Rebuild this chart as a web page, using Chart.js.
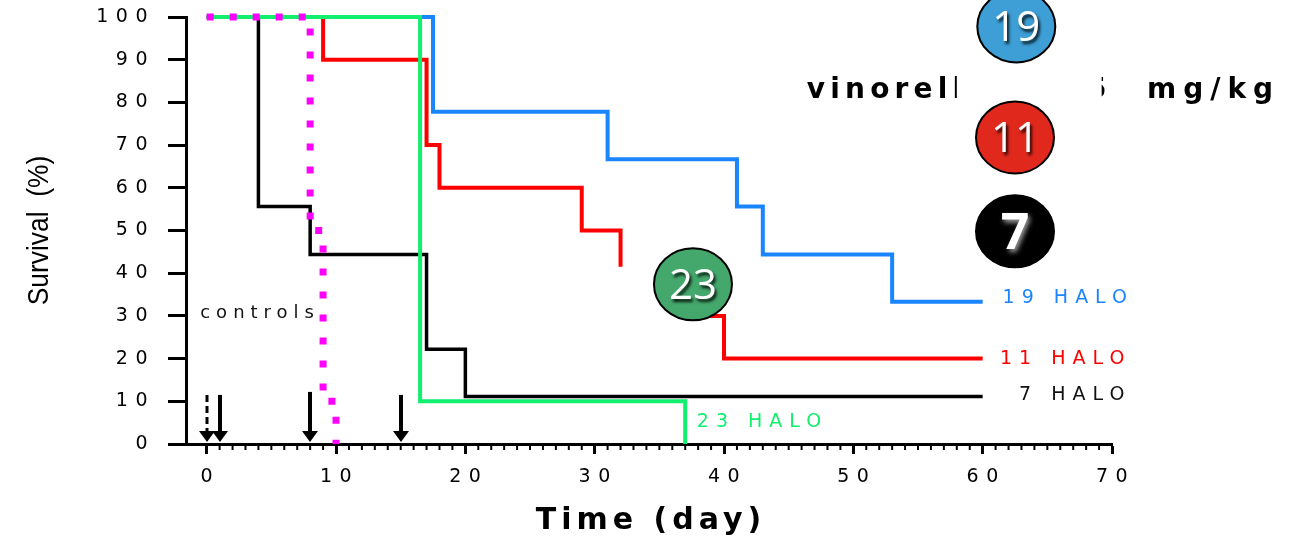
<!DOCTYPE html>
<html>
<head>
<meta charset="utf-8">
<script src="https://cdn.jsdelivr.net/npm/chart.js@4"></script>
<style>
  html, body { margin: 0; padding: 0; background: #fff; }
</style>
</head>
<body>
<canvas id="myChart" width="1289" height="537"></canvas>
<script>
// survival curves (day, % survival)
var blueDays = [0, 17.5, 31, 41, 43, 53, 60];
var blueSurv = [100, 77.8, 66.7, 55.6, 44.4, 33.3, 33.3];
var redDays = [0, 9, 17, 18, 29, 32, 34, 37, 40, 60];
var redSurv = [100, 90, 70, 60, 50, 41.5, null, 30, 20, 20];
var blackDays = [0, 4, 8, 17, 20, 60];
var blackSurv = [100, 55.6, 44.4, 22.2, 11.1, 11.1];
var greenDays = [0, 16.5, 37];
var greenSurv = [100, 10, 0];
var ctrlDays = [0, 8, 9, 10];
var ctrlSurv = [100, 50, 10, 0];

// dosing days (arrows), first one dashed
var doseDays = [0, 1, 8, 15];

// curve end labels
var endLabels = ['19 HALO', '11 HALO', '7 HALO', '23 HALO'];

function pts(days, surv) {
    return days.map(function (d, i) { return { x: d, y: surv[i] }; });
}

var extras = {
    id: 'extras',
    beforeDraw: function (chart) {
        chart.ctx.letterSpacing = '7.5px';
    },
    afterDraw: function (chart) {
        var ctx = chart.ctx;
        var xs = chart.scales.x, ys = chart.scales.y;
        var px = function (d) { return xs.getPixelForValue(d); };
        var py = function (v) { return ys.getPixelForValue(v); };
        var base = ys.getPixelForValue(0);
        ctx.save();

        // minor ticks every day
        ctx.strokeStyle = '#000';
        ctx.lineWidth = 2;
        for (var d = 1; d < 70; d++) {
            if (d % 10 === 0) continue;
            ctx.beginPath();
            ctx.moveTo(px(d), base);
            ctx.lineTo(px(d), base + 6);
            ctx.stroke();
        }

        // dosing arrows
        doseDays.forEach(function (d, i) {
            var x = Math.round(px(d));
            var top = (d === 8) ? py(12.2) : py(11.5);
            ctx.save();
            ctx.lineWidth = i === 0 ? 3 : 4;
            if (i === 0) ctx.setLineDash([7, 4]);
            ctx.beginPath();
            ctx.moveTo(x, top);
            ctx.lineTo(x, base - 10);
            ctx.stroke();
            ctx.restore();
            ctx.beginPath();
            ctx.moveTo(x - 8, base - 13);
            ctx.lineTo(x + 8, base - 13);
            ctx.lineTo(x, base - 2);
            ctx.closePath();
            ctx.fillStyle = '#000';
            ctx.fill();
        });

        // text labels
        ctx.textBaseline = 'middle';
        ctx.font = '18px "DejaVu Sans"';
        ctx.letterSpacing = '6px';
        ctx.fillStyle = '#111';
        ctx.textAlign = 'left';
        ctx.fillText('controls', px(-0.5), py(30.7));

        ctx.font = '19px "DejaVu Sans"';
        ctx.letterSpacing = '7px';
        ctx.textAlign = 'right';
        ctx.fillStyle = '#1a85ff';
        ctx.fillText(endLabels[0], px(71.7), py(34.2));
        ctx.fillStyle = '#ff0000';
        ctx.fillText(endLabels[1], px(71.5), py(19.9));
        ctx.fillStyle = '#111';
        ctx.fillText(endLabels[2], px(71.5), py(11.5));
        ctx.textAlign = 'left';
        ctx.fillStyle = '#12ee6e';
        ctx.fillText(endLabels[3], px(37.9), py(5.2));

        // treatment legend text (partly covered in the original)
        ctx.font = 'bold 28px "DejaVu Sans"';
        ctx.letterSpacing = '5.2px';
        ctx.fillStyle = '#000';
        ctx.textBaseline = 'alphabetic';
        ctx.textAlign = 'left';
        ctx.fillText('vinorelbine', px(46.4), py(81));
        ctx.letterSpacing = '7px';
        ctx.textAlign = 'right';
        ctx.fillText('5  mg/kg', px(83.0), py(81));
        ctx.fillStyle = '#fff';
        ctx.fillRect(px(58.0), 62, px(69.2) - px(58.0), 48);

        // numbered compound badges
        var badges = [
            { t: '19', x: 62.6, y: 97.8, fill: '#3d9fd6' },
            { t: '11', x: 62.5, y: 71.8, fill: '#e1281d' },
            { t: '7', x: 62.5, y: 49.8, fill: '#000000' },
            { t: '23', x: 37.6, y: 37.4, fill: '#44a86c' }
        ];
        ctx.letterSpacing = '0px';
        badges.forEach(function (b) {
            var cx = px(b.x), cy = py(b.y);
            ctx.beginPath();
            ctx.ellipse(cx, cy, 39, 36, 0, 0, Math.PI * 2);
            ctx.fillStyle = b.fill;
            ctx.fill();
            ctx.lineWidth = 2;
            ctx.strokeStyle = '#000';
            ctx.stroke();
            ctx.save();
            ctx.textAlign = 'center';
            ctx.textBaseline = 'middle';
            ctx.fillStyle = '#fff';
            if (b.t === '7') {
                ctx.font = 'bold 50px "Open Sans"';
                ctx.shadowColor = 'rgba(170,170,170,0.95)';
                ctx.shadowBlur = 5;
                ctx.shadowOffsetX = 2;
                ctx.shadowOffsetY = 3;
            } else {
                ctx.font = '42px "Open Sans"';
                ctx.shadowColor = 'rgba(0,0,0,0.85)';
                ctx.shadowBlur = 3;
                ctx.shadowOffsetX = 2;
                ctx.shadowOffsetY = 3;
            }
            ctx.fillText(b.t, cx, cy + 3);
            ctx.restore();
        });

        // axis titles
        ctx.fillStyle = '#000';
        ctx.textAlign = 'center';
        ctx.textBaseline = 'middle';
        ctx.font = 'bold 30px "DejaVu Sans"';
        ctx.letterSpacing = '5px';
        ctx.fillText('Time (day)', (xs.left + xs.right) / 2 + 2, 521);

        ctx.save();
        ctx.translate(40, (ys.top + ys.bottom) / 2);
        ctx.rotate(-Math.PI / 2);
        ctx.scale(0.88, 1);
        ctx.font = '30px "Liberation Sans"';
        ctx.letterSpacing = '0px';
        ctx.fillText('Survival  (%)', 0, 0);
        ctx.restore();

        ctx.restore();
    }
};

var ctx = document.getElementById('myChart').getContext('2d');
var myChart = new Chart(ctx, {
    type: 'line',
    data: {
        datasets: [
            {
                label: 'controls',
                data: pts(ctrlDays, ctrlSurv),
                borderColor: '#ff00ff',
                borderWidth: 7,
                borderDash: [7, 16],
                stepped: 'before'
            },
            {
                label: '23 HALO',
                data: pts(greenDays, greenSurv),
                borderColor: '#12ee6e',
                borderWidth: 4,
                stepped: 'before'
            },
            {
                label: '19 HALO',
                data: pts(blueDays, blueSurv),
                borderColor: '#1a85ff',
                borderWidth: 4,
                stepped: 'before'
            },
            {
                label: '11 HALO',
                data: pts(redDays, redSurv),
                borderColor: '#ff0000',
                borderWidth: 4,
                stepped: 'before'
            },
            {
                label: '7 HALO',
                data: pts(blackDays, blackSurv),
                borderColor: '#000000',
                borderWidth: 3.5,
                stepped: 'before'
            }
        ]
    },
    options: {
        responsive: false,
        animation: false,
        clip: false,
        spanGaps: false,
        elements: {
            point: { radius: 0, hoverRadius: 0 },
            line: { fill: false, borderCapStyle: 'butt' }
        },
        layout: { padding: { top: 17, right: 177, bottom: 0, left: 0 } },
        plugins: {
            legend: { display: false },
            tooltip: { enabled: false }
        },
        scales: {
            x: {
                type: 'linear',
                min: -1.6,
                max: 70,
                afterFit: function (s) {
                    s.height = 93;
                    s.paddingLeft = 0;
                    s.paddingRight = 0;
                },
                ticks: {
                    stepSize: 10,
                    includeBounds: false,
                    maxRotation: 0,
                    padding: 12,
                    labelOffset: 3.5,
                    color: '#000',
                    font: { family: 'DejaVu Sans', size: 19 }
                },
                grid: {
                    drawOnChartArea: false,
                    tickLength: 10,
                    tickWidth: 3,
                    tickColor: '#000'
                },
                border: { display: true, width: 3, color: '#000' }
            },
            y: {
                min: 0,
                max: 100,
                afterFit: function (s) {
                    s.width = 186;
                    s.paddingTop = 0;
                    s.paddingBottom = 0;
                },
                ticks: {
                    stepSize: 10,
                    padding: 13,
                    color: '#000',
                    font: { family: 'DejaVu Sans', size: 19 }
                },
                grid: {
                    drawOnChartArea: false,
                    tickLength: 18,
                    tickWidth: 3,
                    tickColor: '#000'
                },
                border: { display: true, width: 3, color: '#000' }
            }
        }
    },
    plugins: [extras]
});
</script>
</body>
</html>
